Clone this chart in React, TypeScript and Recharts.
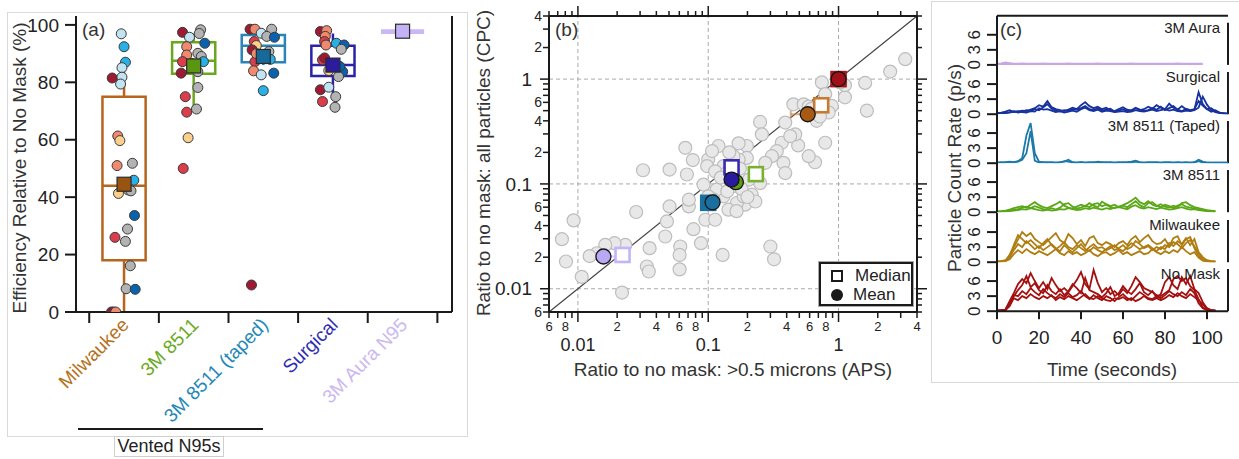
import React from 'react';
import {
  ScatterChart, Scatter, LineChart, Line, XAxis, YAxis,
  ReferenceArea, ReferenceLine, ErrorBar,
} from 'recharts';

const FONT = '"Liberation Sans", Arial, Helvetica, sans-serif';
const INK = '#1a1a1a';

// ---------- (a) efficiency relative to no mask ----------
const categories = ['Milwaukee', '3M 8511', '3M 8511 (taped)', 'Surgical', '3M Aura N95'];
const categoryColors = ['#b5711c', '#6aaa22', '#2387b8', '#2d2db0', '#cbb8f2'];
const boxColors = ['#b5651d', '#6aa61e', '#2a84b5', '#2b22a8', '#c9b8f5'];
const meanFill = ['#9a5412', '#5a9612', '#17699a', '#2a1c9c', '#c4b2f6'];
const whiskerLow = [0, 69.5, 86, 75.5, 97.6];
const quartile1 = [18, 83, 87, 82.2, 96.8];
const medianEff = [44, 87.5, 92.7, 86, 97.6];
const quartile3 = [75, 94, 96.5, 92.7, 98.5];
const whiskerHigh = [87, 97, 98.2, 97, 97.6];
const meanEff = [44.5, 85.7, 89, 86, 97.8];
const effTicks = [0, 20, 40, 60, 80, 100];

const toneColors: Record<string, string> = {
  dr: '#9e1a33', r: '#dc3d4a', s: '#f08a6e', o: '#fbcf8c',
  g: '#b3b3b3', lb: '#c2e3f2', sb: '#29b0e6', b: '#0a62ad',
};

const milwaukeeEff = [96.9, 92.4, 87.0, 85.1, 81.5, 81.8, 79.4, 61.3, 59.7, 51.0, 51.8, 45.9, 42.5, 41.3, 42.2, 33.6, 28.9, 26.0, 24.6, 16.1, 8.1, 7.9, 0, 0, 0];
const milwaukeeJit = [-0.04, 0, 0.02, -0.03, -0.17, -0.03, -0.05, -0.09, -0.06, -0.1, 0.12, 0.14, 0.06, -0.08, 0.1, 0.15, 0.05, -0.13, 0.02, 0.09, 0.03, 0.16, -0.18, -0.15, -0.12];
const milwaukeeTone = ['lb', 'sb', 'sb', 'lb', 'dr', 'lb', 'lb', 's', 'o', 's', 'g', 'sb', 'g', 'o', 'g', 'b', 'g', 'r', 'g', 'g', 'g', 'b', 'dr', 'dr', 's'];

const m8511Eff = [97.4, 98.3, 97.0, 95.7, 93.6, 92.4, 90.1, 89.5, 89.0, 87.2, 87.2, 86.6, 83.2, 83.7, 78.2, 75.0, 69.6, 70.7, 60.7, 50.0];
const m8511Jit = [-0.16, 0.1, 0.08, -0.06, 0.16, -0.1, 0.06, -0.1, 0.11, 0.14, -0.16, -0.03, -0.18, 0.06, 0.06, -0.12, -0.1, 0.04, -0.08, -0.15];
const m8511Tone = ['dr', 'g', 'g', 'lb', 'b', 's', 'g', 's', 'g', 'sb', 'r', 'o', 'dr', 'g', 'g', 'r', 'r', 'g', 'o', 'r'];

const tapedEff = [98.5, 98.5, 98.5, 97.1, 96.0, 95.7, 94.2, 92.8, 91.3, 90.7, 87.2, 84.0, 82.6, 83.2, 77.1, 9.4, 90.0, 88.0];
const tapedJit = [-0.19, -0.12, 0.12, -0.03, 0.05, 0.16, -0.13, -0.1, -0.16, 0.08, -0.12, -0.14, -0.03, 0.15, 0, -0.17, -0.1, 0.1];
const tapedTone = ['dr', 's', 'g', 'lb', 'g', 'b', 'r', 'o', 'dr', 'g', 'r', 's', 'lb', 'b', 'sb', 'dr', 's', 'sb'];

const surgicalEff = [97.7, 98.0, 96.0, 94.2, 93.0, 93.6, 93.0, 91.5, 87.8, 83.7, 82.0, 84.1, 77.4, 78.3, 75.0, 73.3, 71.3, 85.5, 88.5];
const surgicalJit = [-0.18, -0.09, -0.11, -0.12, -0.1, 0.05, 0.16, 0.12, -0.15, 0.14, 0.08, -0.06, -0.18, -0.06, 0.04, -0.15, 0.03, 0.1, -0.12];
const surgicalTone = ['dr', 's', 's', 'r', 's', 'sb', 'b', 'g', 'r', 'b', 'g', 'o', 'dr', 'lb', 'g', 'r', 'g', 'b', 'dr'];

const pointGroups = [
  { eff: milwaukeeEff, jit: milwaukeeJit, tone: milwaukeeTone },
  { eff: m8511Eff, jit: m8511Jit, tone: m8511Tone },
  { eff: tapedEff, jit: tapedJit, tone: tapedTone },
  { eff: surgicalEff, jit: surgicalJit, tone: surgicalTone },
];
const effPoints = pointGroups.flatMap((g, i) =>
  g.eff.map((v, j) => ({ x: i + 0.5 + g.jit[j], y: v, color: toneColors[g.tone[j]] })));
const effMeans = meanEff.map((v, i) => ({ x: i + 0.5, y: v, color: meanFill[i] }));
const catTicks = [0, 0.5, 1, 1.5, 2, 2.5, 3, 3.5, 4, 4.5, 5];

// ---------- (b) ratio to no mask ----------
const grayX = [3.25, 2.49, 1.6, 1.65, 1.12, 1.12, 0.745, 0.79, 0.89, 0.84, 0.68, 0.79, 0.66, 0.59, 0.49, 0.465, 0.45, 0.54, 0.39, 0.367, 0.336, 0.378, 0.39, 0.25, 0.258, 0.308, 0.274, 0.3, 0.32, 0.198, 0.171, 0.198, 0.171, 0.23, 0.25, 0.216, 0.192, 0.23, 0.166, 0.143, 0.131, 0.12, 0.1, 0.098, 0.131, 0.113, 0.092, 0.116, 0.11, 0.095, 0.113, 0.088, 0.129, 0.077, 0.071, 0.071, 0.0762, 0.0667, 0.0686, 0.0505, 0.0505, 0.0482, 0.0468, 0.061, 0.0603, 0.0603, 0.0355, 0.0338, 0.035, 0.028, 0.0316, 0.0218, 0.0231, 0.0191, 0.0162, 0.014, 0.0107, 0.0081, 0.00754, 0.00927, 0.156, 0.139, 0.187, 0.156, 0.426, 0.59, 0.1, 0.107, 1.03, 0.0123, 0.145, 0.175, 0.205, 0.18, 0.125, 0.14, 0.2, 0.165, 0.72, 0.62];
const grayY = [1.55, 1.18, 0.92, 0.5, 0.67, 0.875, 0.93, 0.72, 0.555, 0.48, 0.4, 0.247, 0.161, 0.184, 0.233, 0.297, 0.575, 0.575, 0.385, 0.247, 0.206, 0.159, 0.127, 0.39, 0.297, 0.184, 0.159, 0.0253, 0.0191, 0.23, 0.244, 0.177, 0.171, 0.127, 0.102, 0.079, 0.0634, 0.068, 0.0658, 0.0568, 0.0762, 0.23, 0.171, 0.148, 0.148, 0.132, 0.0986, 0.0883, 0.0708, 0.0455, 0.0455, 0.0272, 0.021, 0.037, 0.061, 0.0708, 0.169, 0.221, 0.123, 0.137, 0.061, 0.0439, 0.0315, 0.0253, 0.021, 0.0153, 0.0244, 0.0163, 0.0146, 0.054, 0.135, 0.0092, 0.0262, 0.0272, 0.0262, 0.0218, 0.013, 0.0182, 0.0297, 0.0449, 0.184, 0.127, 0.076, 0.095, 0.286, 0.547, 0.0762, 0.206, 0.93, 0.0205, 0.2, 0.14, 0.11, 0.09, 0.115, 0.085, 0.075, 0.055, 0.44, 0.52];
const grayPoints = grayX.map((x, i) => ({ x, y: grayY[i] }));

const maskNames = ['3M Aura', '3M 8511', '3M 8511 (taped)', 'Surgical', 'Milwaukee', 'No Mask'];
const maskFill = ['#b9a8f4', '#5c9c14', '#1a6f9e', '#2a1a9e', '#a85a14', '#a01018'];
const maskEdge = ['#c4b4f8', '#7ab030', '#1a6f9e', '#3a2ab0', '#c87a30', '#a81818'];
const medianFilled = [false, false, true, false, false, true];
const meanApsX = [0.0157, 0.163, 0.108, 0.151, 0.58, 1.0];
const meanCpcY = [0.0203, 0.104, 0.0667, 0.11, 0.462, 1.0];
const medianApsX = [0.022, 0.232, 0.1, 0.151, 0.736, 1.0];
const medianCpcY = [0.021, 0.124, 0.066, 0.144, 0.563, 1.0];
const errLow = [0.0043, 0.02, 0.01, 0.027, 0.15, 0];
const errHigh = [0.006, 0.02, 0.01, 0.02, 0.14, 0];
const logTicks = [0.006, 0.007, 0.008, 0.009, 0.01, 0.02, 0.03, 0.04, 0.05, 0.06, 0.07, 0.08, 0.09, 0.1, 0.2, 0.3, 0.4, 0.5, 0.6, 0.7, 0.8, 0.9, 1, 2, 3, 4];
const decadeLines = [0.01, 0.1, 1];
const medianPoints = medianApsX.map((x, i) => ({
  x, y: medianCpcY[i], edge: maskEdge[i], fill: medianFilled[i] ? maskFill[i] : '#fff',
}));

// ---------- (c) particle count traces ----------
const timeSec = [0, 2, 4, 6, 8, 10, 12, 14, 16, 18, 20, 22, 24, 26, 28, 30, 32, 34, 36, 38, 40, 42, 44, 46, 48, 50, 52, 54, 56, 58, 60, 62, 64, 66, 68, 70, 72, 74, 76, 78, 80, 82, 84, 86, 88, 90, 92, 94, 96, 98, 100, 102, 104, 106, 108, 110];

const auraRun = [0.1, 0.15, 0.3, 0.2, 0.1, 0.1, 0.15, 0.1, 0.1, 0.1, 0.1, 0.15, 0.1, 0.1, 0.1, 0.1, 0.1, 0.15, 0.1, 0.1, 0.1, 0.1, 0.1, 0.1, 0.15, 0.1, 0.1, 0.1, 0.1, 0.1, 0.1, 0.1, 0.15, 0.1, 0.1, 0.1, 0.1, 0.1, 0.1, 0.1, 0.1, 0.1, 0.1, 0.15, 0.1, 0.1, 0.1, 0.1, 0.1, 0.1];

const surgical1 = [0.2, 0.3, 0.5, 0.8, 0.4, 0.5, 0.7, 0.6, 0.9, 1.2, 1.8, 1.5, 2.6, 1.4, 1.0, 0.8, 0.6, 0.9, 1.3, 1.0, 1.8, 2.4, 1.6, 1.2, 1.5, 1.0, 1.3, 0.8, 0.6, 1.0, 1.4, 0.9, 0.7, 1.2, 0.8, 1.0, 1.5, 1.1, 1.8, 1.3, 1.0, 2.1, 1.3, 0.9, 1.6, 1.0, 0.7, 0.9, 4.4, 2.0, 1.0, 0.5, 0.8, 0.3, 0.1, 0.1];
const surgical2 = [0.1, 0.2, 0.3, 0.4, 0.6, 0.3, 0.5, 0.8, 0.6, 1.0, 0.8, 1.4, 2.0, 1.1, 0.7, 0.5, 0.8, 0.6, 1.0, 0.9, 1.2, 1.6, 1.0, 0.8, 1.2, 0.7, 0.9, 1.1, 0.5, 0.7, 1.0, 0.6, 0.8, 1.3, 0.9, 0.6, 0.8, 1.2, 0.9, 1.5, 0.8, 1.2, 1.6, 0.9, 0.6, 1.1, 0.8, 1.0, 2.6, 1.7, 1.0, 1.2, 0.6, 0.3, 0.2, 0.1];
const surgical3 = [0.3, 0.2, 0.2, 0.3, 0.5, 0.6, 0.4, 0.3, 0.6, 0.5, 1.2, 0.9, 1.0, 0.7, 0.4, 0.6, 0.3, 0.5, 0.7, 0.5, 1.0, 1.3, 0.8, 0.6, 0.9, 0.5, 0.7, 0.6, 0.4, 0.5, 0.6, 0.4, 0.5, 0.8, 0.6, 0.5, 0.7, 0.9, 0.6, 0.8, 1.0, 0.7, 0.9, 0.6, 0.5, 0.7, 0.6, 0.8, 1.3, 3.5, 1.9, 0.8, 0.4, 0.2, 0.1, 0.1];

const taped1 = [0.1, 0.1, 0.2, 0.3, 0.2, 0.4, 1.0, 5.5, 8.0, 2.0, 0.3, 0.2, 0.1, 0.2, 0.1, 0.2, 0.3, 0.7, 0.2, 0.1, 0.2, 0.1, 0.2, 0.1, 0.3, 0.2, 0.1, 0.2, 0.1, 0.2, 0.1, 0.2, 0.3, 0.5, 0.2, 0.1, 0.2, 0.1, 0.2, 0.1, 0.2, 0.1, 0.1, 0.2, 0.1, 0.2, 0.1, 0.2, 0.7, 0.3, 0.1, 0.1, 0.1, 0.1, 0.1, 0.1];
const taped2 = [0.1, 0.2, 0.1, 0.2, 0.1, 0.3, 0.7, 2.0, 6.4, 0.5, 0.1, 0.1, 0.2, 0.1, 0.1, 0.1, 0.4, 0.3, 0.1, 0.1, 0.2, 0.1, 0.1, 0.2, 0.1, 0.1, 0.2, 0.1, 0.1, 0.1, 0.2, 0.1, 0.1, 0.3, 0.1, 0.1, 0.1, 0.2, 0.1, 0.1, 0.1, 0.2, 0.1, 0.1, 0.1, 0.1, 0.1, 0.1, 0.4, 0.1, 0.1, 0.1, 0.1, 0.1, 0.1, 0.1];

const m8511Run1 = [0.1, 0.2, 0.3, 0.5, 0.8, 1.0, 1.2, 0.9, 1.5, 2.0, 1.4, 1.0, 0.8, 1.2, 1.6, 2.1, 1.3, 0.9, 0.7, 1.1, 1.5, 1.2, 1.8, 1.3, 1.0, 2.1, 1.6, 1.2, 1.5, 1.0, 1.4, 1.8, 2.3, 2.9, 2.0, 1.6, 2.2, 1.5, 1.2, 1.6, 1.1, 0.9, 1.3, 1.0, 1.8, 2.0, 1.4, 1.0, 0.8, 0.6, 0.4, 0.3, 0.2];
const m8511Run2 = [0.1, 0.1, 0.2, 0.3, 0.5, 0.6, 0.9, 1.1, 0.8, 1.2, 0.9, 0.6, 0.5, 0.8, 0.5, 0.9, 1.6, 1.8, 1.1, 0.7, 0.9, 1.3, 1.0, 1.6, 1.8, 1.2, 1.5, 1.0, 0.8, 1.1, 1.3, 1.0, 1.6, 2.2, 1.4, 1.0, 1.8, 2.0, 1.3, 1.0, 1.5, 1.2, 0.8, 1.3, 1.6, 1.1, 0.9, 0.7, 0.5, 0.4, 0.3, 0.2, 0.1];
const m8511Run3 = [0.1, 0.1, 0.1, 0.2, 0.3, 0.4, 0.6, 0.5, 0.8, 0.6, 0.4, 0.3, 0.5, 0.3, 0.4, 0.6, 0.5, 0.8, 0.6, 0.4, 0.5, 0.8, 0.6, 0.9, 0.7, 0.5, 0.8, 0.6, 0.9, 1.0, 0.8, 0.6, 1.1, 1.4, 0.9, 0.7, 1.0, 0.8, 0.6, 0.9, 0.7, 0.5, 0.6, 0.8, 1.0, 0.7, 0.5, 0.6, 0.4, 0.3, 0.2, 0.1, 0.1];

const milwaukee1 = [0.1, 0.1, 0.3, 1.5, 3.0, 4.5, 6.0, 5.2, 5.8, 4.6, 4.0, 3.4, 4.2, 5.0, 5.8, 4.4, 3.8, 5.6, 4.8, 3.6, 4.4, 3.2, 4.8, 5.2, 3.8, 3.4, 4.0, 3.6, 3.0, 3.8, 4.2, 3.4, 4.6, 5.2, 4.0, 4.8, 5.4, 4.2, 3.6, 3.8, 4.6, 3.2, 4.8, 5.2, 3.4, 4.6, 5.0, 2.8, 1.2, 0.5, 0.2, 0.1, 0.1];
const milwaukee2 = [0.1, 0.2, 0.4, 1.0, 2.4, 3.6, 3.0, 4.2, 3.4, 2.6, 3.2, 2.4, 3.0, 3.6, 2.8, 2.2, 3.4, 2.6, 2.0, 2.8, 3.6, 2.6, 2.2, 3.0, 2.4, 2.0, 2.6, 3.2, 2.4, 2.8, 3.4, 2.6, 3.0, 4.2, 3.6, 2.8, 3.2, 2.4, 3.0, 2.6, 3.4, 3.0, 4.0, 3.6, 2.8, 3.8, 4.4, 3.2, 1.8, 0.6, 0.2, 0.1, 0.1];
const milwaukee3 = [0.1, 0.1, 0.2, 0.6, 1.6, 2.4, 1.8, 2.6, 2.0, 1.6, 2.2, 1.8, 1.4, 2.0, 2.6, 1.8, 1.4, 2.2, 1.6, 2.0, 1.4, 1.8, 2.4, 1.6, 1.2, 1.8, 2.0, 1.4, 1.8, 2.4, 1.6, 2.0, 1.4, 1.8, 2.2, 1.6, 1.8, 2.6, 2.0, 1.6, 2.2, 1.8, 2.4, 2.0, 3.0, 2.2, 1.6, 2.0, 0.9, 0.3, 0.1, 0.1, 0.1];
const milwaukee4 = [0.1, 0.2, 0.2, 1.2, 3.4, 5.4, 4.6, 3.8, 4.4, 3.6, 2.8, 3.8, 4.6, 3.4, 2.6, 3.2, 4.0, 3.0, 2.6, 3.4, 2.8, 2.2, 3.0, 3.6, 2.8, 3.0, 2.4, 2.8, 3.4, 2.6, 2.2, 3.0, 3.8, 3.2, 2.6, 3.0, 3.4, 2.8, 2.2, 3.0, 2.6, 3.8, 3.2, 4.2, 3.6, 4.8, 3.4, 4.6, 2.0, 1.0, 0.4, 0.2, 0.1];

const noMask1 = [0.2, 0.1, 0.3, 2.0, 3.6, 5.4, 6.4, 5.6, 7.6, 6.0, 4.6, 5.8, 4.4, 6.6, 5.2, 4.0, 4.6, 3.8, 5.0, 6.2, 7.8, 5.4, 4.4, 8.2, 5.6, 3.8, 4.6, 3.4, 4.0, 3.2, 4.4, 3.6, 5.0, 6.8, 5.8, 4.6, 4.2, 3.8, 3.2, 3.0, 3.6, 4.2, 6.4, 7.0, 6.0, 6.6, 5.0, 4.2, 2.4, 0.8, 0.3, 0.1, 0.1];
const noMask2 = [0.1, 0.2, 0.2, 1.4, 3.0, 4.2, 5.2, 7.0, 4.8, 5.6, 4.2, 3.6, 5.2, 4.0, 3.4, 4.4, 3.2, 4.0, 5.4, 4.6, 3.6, 6.6, 4.2, 3.8, 3.4, 2.8, 3.6, 4.8, 3.0, 3.6, 5.0, 4.0, 3.4, 4.4, 5.6, 3.8, 3.2, 4.0, 2.8, 3.4, 5.8, 6.8, 5.2, 4.4, 6.8, 5.4, 7.0, 4.4, 3.6, 1.8, 0.6, 0.2, 0.1];
const noMask3 = [0.1, 0.1, 0.3, 1.8, 3.2, 3.0, 4.0, 3.4, 4.6, 3.8, 3.2, 4.4, 3.6, 3.0, 2.6, 3.4, 2.8, 3.6, 2.8, 3.2, 4.0, 3.0, 2.4, 3.2, 2.6, 2.2, 3.0, 2.6, 2.0, 2.8, 3.4, 2.6, 2.2, 3.0, 3.8, 3.2, 2.6, 2.4, 3.0, 2.6, 3.2, 4.0, 3.4, 3.0, 3.8, 3.2, 4.4, 3.6, 1.6, 0.6, 0.2, 0.1, 0.1];
const noMask4 = [0.1, 0.1, 0.2, 1.0, 2.6, 2.2, 3.0, 2.6, 3.4, 2.8, 2.4, 3.0, 2.6, 3.2, 2.2, 2.8, 2.4, 3.0, 2.6, 2.2, 2.8, 3.4, 2.6, 2.4, 3.0, 2.6, 2.2, 2.0, 2.6, 2.4, 2.8, 2.2, 2.6, 2.0, 2.4, 3.0, 2.4, 2.2, 2.6, 2.2, 2.6, 3.2, 2.8, 3.6, 3.0, 2.6, 3.4, 2.8, 2.2, 1.4, 0.5, 0.2, 0.1];

const tracePanels = [
  { label: '3M Aura', color: '#c9a6e6', width: 3.5, runs: [auraRun] },
  { label: 'Surgical', color: '#17319e', width: 1.8, runs: [surgical1, surgical2, surgical3] },
  { label: '3M 8511 (Taped)', color: '#1c7aab', width: 1.8, runs: [taped1, taped2] },
  { label: '3M 8511', color: '#5aa818', width: 1.8, runs: [m8511Run1, m8511Run2, m8511Run3] },
  { label: 'Milwaukee', color: '#b07d12', width: 1.8, runs: [milwaukee1, milwaukee2, milwaukee3, milwaukee4] },
  { label: 'No Mask', color: '#a3100f', width: 1.8, runs: [noMask1, noMask2, noMask3, noMask4] },
];
const rateTicks = [0, 3, 6];
const timeTicks = [0, 20, 40, 60, 80, 100];

// ---------- helpers ----------
const mantissa = (v: number) => Math.round(v / Math.pow(10, Math.floor(Math.log10(v) + 1e-9)));

const CategoryTick = ({ x, y, payload }: any) => {
  const v = payload.value;
  if (Number.isInteger(v)) return <line x1={x} x2={x} y1={y} y2={y + 11} stroke={INK} strokeWidth={2} />;
  const i = Math.floor(v);
  const ax = x + 6;
  const ay = y + 14;
  return (
    <text x={ax} y={ay} textAnchor="end" transform={`rotate(-45 ${ax} ${ay})`} fontSize={19}
      fill={categoryColors[i]} fontFamily={FONT}>{categories[i]}</text>
  );
};

const LogTickBottom = ({ x, y, payload }: any) => {
  const v = payload.value;
  const m = mantissa(v);
  return (
    <g>
      <line x1={x} x2={x} y1={y} y2={y + (m === 1 ? 10 : 6)} stroke={INK} strokeWidth={1.5} />
      {m === 1 && <text x={x} y={y + 39} textAnchor="middle" fontSize={18} fill="#222" fontFamily={FONT}>{String(v)}</text>}
      {m !== 1 && m % 2 === 0 && <text x={x} y={y + 19} textAnchor="middle" fontSize={13} fill="#222" fontFamily={FONT}>{m}</text>}
    </g>
  );
};

const LogTickLeft = ({ x, y, payload }: any) => {
  const v = payload.value;
  const m = mantissa(v);
  return (
    <g>
      <line x1={x - (m === 1 ? 9 : 6)} x2={x} y1={y} y2={y} stroke={INK} strokeWidth={1.5} />
      {m === 1 && <text x={x - 17} y={y} dy="0.35em" textAnchor="end" fontSize={19} fill="#222" fontFamily={FONT}>{String(v)}</text>}
      {(m === 2 || m === 4 || m === 6) && <text x={x - 7} y={y} dy="0.35em" textAnchor="end" fontSize={14} fill="#222" fontFamily={FONT}>{m}</text>}
    </g>
  );
};

const LogTickTop = ({ x, y, payload }: any) => {
  const m = mantissa(payload.value);
  return <line x1={x} x2={x} y1={y - (m === 1 ? 10 : 5)} y2={y} stroke={INK} strokeWidth={1.5} />;
};

const LogTickRight = ({ x, y, payload }: any) => {
  const m = mantissa(payload.value);
  return <line x1={x} x2={x + (m === 1 ? 10 : 5)} y1={y} y2={y} stroke={INK} strokeWidth={1.5} />;
};

const RateTick = ({ x, y, payload }: any) => {
  const cx = x - 13;
  return (
    <text x={cx} y={y} dy="0.35em" textAnchor="middle" transform={`rotate(-90 ${cx} ${y})`}
      fontSize={17} fill="#222" fontFamily={FONT}>{payload.value}</text>
  );
};

const Dot = (p: any) => (
  <circle cx={p.cx} cy={p.cy} r={5} fill={p.payload.color} stroke="#3a3a3a" strokeWidth={1} />
);
const MeanSquare = (p: any) => (
  <rect x={p.cx - 7} y={p.cy - 7} width={14} height={14} fill={p.payload.color} stroke="#2a2a2a" strokeWidth={1.2} />
);

const titleStyle = (cx: number, cy: number, rotate: boolean): React.CSSProperties => ({
  position: 'absolute', left: cx - 200, top: cy - 11, width: 400, height: 22, lineHeight: '22px',
  textAlign: 'center', fontSize: 19, color: '#333', fontFamily: FONT,
  transform: rotate ? 'rotate(-90deg)' : undefined, whiteSpace: 'nowrap',
});

function EfficiencyPanel() {
  return (
    <ScatterChart width={470} height={440} margin={{ top: 16, right: 7, bottom: 98, left: 20 }}>
      <XAxis xAxisId="top" orientation="top" type="number" dataKey="x" domain={[-0.19, 5.21]} height={0}
        tick={false} tickLine={false} axisLine={{ stroke: INK, strokeWidth: 2 }} allowDataOverflow />
      <XAxis type="number" dataKey="x" domain={[-0.19, 5.21]} ticks={catTicks} interval={0} height={30}
        tickSize={0} tickMargin={0} tickLine={false} tick={<CategoryTick />}
        axisLine={{ stroke: INK, strokeWidth: 2 }} allowDataOverflow />
      <YAxis type="number" dataKey="y" domain={[0, 103.1]} ticks={effTicks} width={56} tickSize={11} tickMargin={6}
        tick={{ fontSize: 19, fill: '#222', fontFamily: FONT }} tickLine={{ stroke: INK, strokeWidth: 2 }}
        axisLine={{ stroke: INK, strokeWidth: 2 }} allowDataOverflow />
      <YAxis yAxisId="right" orientation="right" type="number" domain={[0, 103.1]} ticks={effTicks} width={11}
        tickSize={10} tick={false} tickLine={{ stroke: INK, strokeWidth: 2 }}
        axisLine={{ stroke: INK, strokeWidth: 2 }} allowDataOverflow />
      <Scatter data={effPoints} shape={Dot} isAnimationActive={false} />
      {categories.map((c, i) => (
        <ReferenceArea key={`box-${c}`} x1={i + 0.19} x2={i + 0.81} y1={quartile1[i]} y2={quartile3[i]}
          fill={i === 4 ? boxColors[i] : 'none'} fillOpacity={i === 4 ? 1 : 0}
          stroke={i === 4 ? 'none' : boxColors[i]} strokeWidth={2.5} />
      ))}
      {categories.slice(0, 4).map((c, i) => (
        <ReferenceLine key={`med-${c}`} stroke={boxColors[i]} strokeWidth={2.5}
          segment={[{ x: i + 0.19, y: medianEff[i] }, { x: i + 0.81, y: medianEff[i] }]} />
      ))}
      {categories.slice(0, 4).map((c, i) => (
        <ReferenceLine key={`wlo-${c}`} stroke={boxColors[i]} strokeWidth={2.5}
          segment={[{ x: i + 0.5, y: whiskerLow[i] }, { x: i + 0.5, y: quartile1[i] }]} />
      ))}
      {categories.slice(0, 4).map((c, i) => (
        <ReferenceLine key={`whi-${c}`} stroke={boxColors[i]} strokeWidth={2.5}
          segment={[{ x: i + 0.5, y: quartile3[i] }, { x: i + 0.5, y: whiskerHigh[i] }]} />
      ))}
      <Scatter data={effMeans} shape={MeanSquare} isAnimationActive={false} />
    </ScatterChart>
  );
}

function RatioPanel() {
  return (
    <ScatterChart width={460} height={400} margin={{ top: 6, right: 3, bottom: 48, left: 19 }}>
      <XAxis type="number" dataKey="x" scale="log" domain={[0.006, 4]} ticks={logTicks} interval={0} height={40}
        tickSize={0} tickMargin={0} tickLine={false} tick={<LogTickBottom />}
        axisLine={{ stroke: INK, strokeWidth: 2 }} allowDataOverflow />
      <XAxis xAxisId="top" orientation="top" type="number" dataKey="x" scale="log" domain={[0.006, 4]} ticks={logTicks}
        interval={0} height={10} tickSize={0} tickMargin={0} tickLine={false} tick={<LogTickTop />}
        axisLine={{ stroke: INK, strokeWidth: 2 }} allowDataOverflow />
      <YAxis type="number" dataKey="y" scale="log" domain={[0.006, 4]} ticks={logTicks} interval={0} width={60}
        tickSize={0} tickMargin={0} tickLine={false} tick={<LogTickLeft />}
        axisLine={{ stroke: INK, strokeWidth: 2 }} allowDataOverflow />
      <YAxis yAxisId="right" orientation="right" type="number" scale="log" domain={[0.006, 4]} ticks={logTicks}
        interval={0} width={10} tickSize={0} tickMargin={0} tickLine={false} tick={<LogTickRight />}
        axisLine={{ stroke: INK, strokeWidth: 2 }} allowDataOverflow />
      {decadeLines.map((v) => (
        <ReferenceLine key={`gx-${v}`} x={v} stroke="#aaa" strokeDasharray="4 3" />
      ))}
      {decadeLines.map((v) => (
        <ReferenceLine key={`gy-${v}`} y={v} stroke="#aaa" strokeDasharray="4 3" />
      ))}
      <ReferenceLine segment={[{ x: 0.006, y: 0.006 }, { x: 4, y: 4 }]} stroke="#444" strokeWidth={1.2} />
      <Scatter data={grayPoints} isAnimationActive={false}
        shape={(p: any) => <circle cx={p.cx} cy={p.cy} r={6.5} fill="#e8e8e8" stroke="#bdbdbd" strokeWidth={1.2} />} />
      <Scatter data={medianPoints} isAnimationActive={false}
        shape={(p: any) => (
          <rect x={p.cx - 7} y={p.cy - 7} width={14} height={14} fill={p.payload.fill}
            stroke={p.payload.edge} strokeWidth={2.6} />
        )} />
      {maskNames.map((name, i) => (
        <Scatter key={name} name={name} isAnimationActive={false}
          data={[{ x: meanApsX[i], y: meanCpcY[i], err: [errLow[i], errHigh[i]] }]}
          shape={(p: any) => <circle cx={p.cx} cy={p.cy} r={7.5} fill={maskFill[i]} stroke="#151515" strokeWidth={1.3} />}>
          <ErrorBar dataKey="err" direction="x" stroke={maskEdge[i]} strokeOpacity={0.6} strokeWidth={2} width={4}
            isAnimationActive={false} />
        </Scatter>
      ))}
    </ScatterChart>
  );
}

function RatioLegend() {
  return (
    <div style={{ position: 'absolute', left: 819, top: 262, width: 94, height: 44, boxSizing: 'border-box',
      border: `2px solid ${INK}`, outline: '1px solid #aaa', background: '#fff', fontFamily: FONT, fontSize: 17,
      color: '#222', padding: '2px 0 0 10px', lineHeight: '19px' }}>
      <div style={{ display: 'flex', alignItems: 'center', whiteSpace: 'nowrap' }}>
        <span style={{ display: 'inline-block', width: 8, height: 8, border: `2px solid ${INK}`, marginRight: 12 }} />Median
      </div>
      <div style={{ display: 'flex', alignItems: 'center', whiteSpace: 'nowrap' }}>
        <span style={{ display: 'inline-block', width: 12, height: 12, borderRadius: 6, background: INK, marginRight: 10 }} />Mean
      </div>
    </div>
  );
}

function TracePanel({ index }: { index: number }) {
  const panel = tracePanels[index];
  const last = index === tracePanels.length - 1;
  const first = index === 0;
  const plotTop = 15.7 + 49.2 * index;
  const rows = timeSec.map((t, i) => {
    const row: Record<string, number | null> = { t };
    panel.runs.forEach((run, j) => { row[`run${j}`] = i < run.length ? run[i] : null; });
    return row;
  });
  const topSpace = first ? 15.7 : 8;
  const bottomSpace = last ? 40 : 8;
  return (
    <div style={{ position: 'absolute', left: 930, top: plotTop - topSpace }}>
      <LineChart width={310} height={topSpace + 49.2 + bottomSpace} data={rows}
        margin={{ top: first ? 5.7 : 8, right: 2, bottom: last ? 6 : 8, left: 37 }}>
        {first && (
          <XAxis xAxisId="top" orientation="top" type="number" dataKey="t" domain={[0, 110]} ticks={timeTicks}
            height={10} tickSize={10} tick={false} tickLine={{ stroke: INK, strokeWidth: 2 }}
            axisLine={{ stroke: INK, strokeWidth: 2 }} allowDataOverflow />
        )}
        <XAxis type="number" dataKey="t" domain={[0, 110]} ticks={timeTicks} interval={0}
          height={last ? 34 : 0} tickSize={last ? 8 : 0} tickMargin={11}
          tick={last ? { fontSize: 19, fill: '#222', fontFamily: FONT } : false}
          tickLine={last ? { stroke: INK, strokeWidth: 2 } : false}
          axisLine={{ stroke: INK, strokeWidth: 2 }} allowDataOverflow />
        <YAxis type="number" domain={[0, 9.8]} ticks={rateTicks} interval={0} width={30} tickSize={10} tickMargin={0}
          tick={<RateTick />} tickLine={{ stroke: INK, strokeWidth: 2 }}
          axisLine={{ stroke: INK, strokeWidth: 2 }} allowDataOverflow />
        <YAxis yAxisId="right" orientation="right" type="number" domain={[0, 9.8]} ticks={rateTicks} width={10}
          tickSize={7} tick={false} tickLine={{ stroke: INK, strokeWidth: 2 }} axisLine={false} allowDataOverflow />
        <ReferenceLine segment={[{ x: 110, y: 0 }, { x: 110, y: 8.4 }]} stroke={INK} strokeWidth={2} ifOverflow="visible" />
        {panel.runs.map((_, j) => (
          <Line key={j} dataKey={`run${j}`} stroke={panel.color} strokeWidth={panel.width} dot={false}
            isAnimationActive={false} connectNulls={false} />
        ))}
      </LineChart>
      <div style={{ position: 'absolute', right: 20, top: topSpace + 3, fontSize: 15, color: '#222',
        fontFamily: FONT, whiteSpace: 'nowrap', lineHeight: '18px' }}>{panel.label}</div>
    </div>
  );
}

export default function App() {
  return (
    <div style={{ position: 'absolute', left: 0, top: 0, width: 1239, height: 459, background: '#fff',
      overflow: 'hidden', fontFamily: FONT }}>
      <div style={{ position: 'absolute', left: 7, top: 12, width: 459, height: 423, border: '1px solid #d9d9d9' }} />
      <div style={{ position: 'absolute', left: 931, top: 1, width: 330, height: 380, border: '1px solid #d9d9d9' }} />
      <div style={{ position: 'absolute', left: 0, top: 0 }}><EfficiencyPanel /></div>
      <div style={{ position: 'absolute', left: 470, top: 0 }}><RatioPanel /></div>
      <RatioLegend />
      {tracePanels.map((p, k) => <TracePanel key={p.label} index={k} />)}

      <div style={{ position: 'absolute', left: 78, top: 428, width: 185, height: 2, background: INK }} />
      <div style={{ position: 'absolute', left: 114, top: 436, width: 108, height: 19, border: '1px solid #cfcfcf',
        fontSize: 18, lineHeight: '19px', textAlign: 'center', color: '#222', background: '#fff',
        whiteSpace: 'nowrap', overflow: 'visible' }}>Vented N95s</div>

      <div style={{ position: 'absolute', left: 82, top: 20, fontSize: 19, lineHeight: '20px', color: '#333' }}>(a)</div>
      <div style={{ position: 'absolute', left: 555, top: 20, fontSize: 19, lineHeight: '20px', color: '#333' }}>(b)</div>
      <div style={{ position: 'absolute', left: 1000, top: 20, fontSize: 19, lineHeight: '20px', color: '#333' }}>(c)</div>

      <div style={titleStyle(20, 168, true)}>Efficiency Relative to No Mask (%)</div>
      <div style={titleStyle(484, 163, true)}>Ratio to no mask: all particles (CPC)</div>
      <div style={titleStyle(733, 370, false)}>Ratio to no mask: &gt;0.5 microns (APS)</div>
      <div style={titleStyle(955, 168, true)}>Particle Count Rate (p/s)</div>
      <div style={titleStyle(1112, 370, false)}>Time (seconds)</div>
    </div>
  );
}
